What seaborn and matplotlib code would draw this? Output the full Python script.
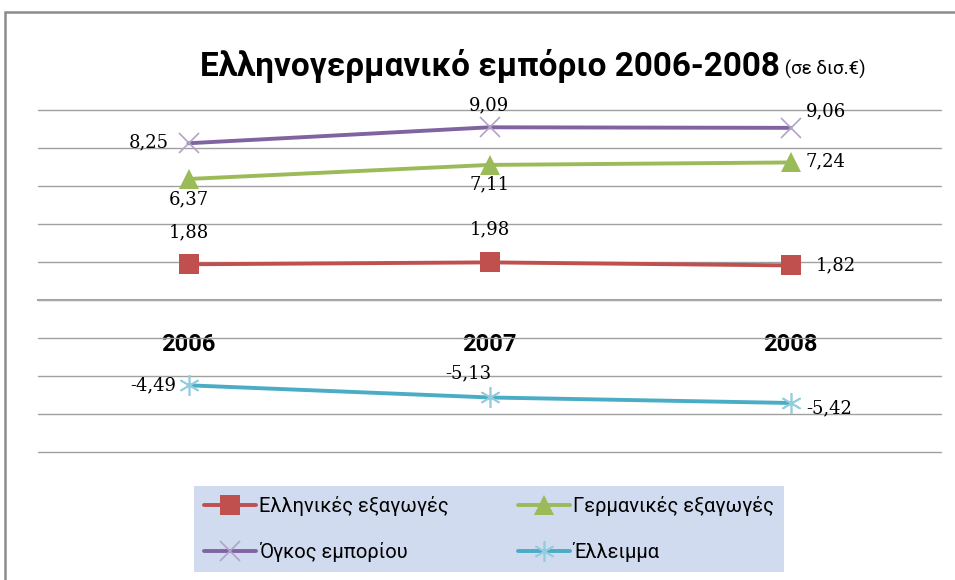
import matplotlib
matplotlib.use("Agg")
import matplotlib.pyplot as plt
import matplotlib.patches as mpatches
import pandas as pd
import seaborn as sns

years = ["2006", "2007", "2008"]
greek_exports = [1.88, 1.98, 1.82]
german_exports = [6.37, 7.11, 7.24]
trade_volume = [8.25, 9.09, 9.06]
deficit = [-4.49, -5.13, -5.42]

series_names = ["Ελληνικές εξαγωγές", "Γερμανικές εξαγωγές", "Όγκος εμπορίου", "Έλλειμμα"]
title_main = "Ελληνογερμανικό εμπόριο 2006-2008"
title_unit = " (σε δισ.€)"

sns.set_style("white")
plt.rcParams['font.family'] = ['Roboto', 'DejaVu Sans']
plt.rcParams['text.color'] = 'black'

# style of each series: colour, marker colour, marker, size, label offsets (pt) + alignment
styles = [
    dict(color='#C0504D', mcolor='#C0504D', marker='s', ms=14, mew=0,
         offs=[((0, 23), 'center'), ((0, 24), 'center'), ((18, 0), 'left')]),
    dict(color='#9BBB59', mcolor='#9BBB59', marker='^', ms=15, mew=0,
         offs=[((0, -15), 'center'), ((0, -14), 'center'), ((11, 1), 'left')]),
    dict(color='#8064A2', mcolor='#B3A2C7', marker='x', ms=15, mew=1.2,
         offs=[((-14, 1), 'right'), ((0, 16), 'center'), ((11, 12), 'left')]),
    dict(color='#4BACC6', mcolor='#93CDDD', marker=(6, 2, 0), ms=15, mew=1.2,
         offs=[((-9, 0), 'right'), ((-15, 17), 'center'), ((11, -4), 'left')]),
]

df = pd.DataFrame({'year': years})
values = [greek_exports, german_exports, trade_volume, deficit]

fig = plt.figure(figsize=(9.55, 5.8), dpi=100)
ax = fig.add_axes([38 / 955, 1 - 452 / 580, (941 - 38) / 955, 342 / 580])

for name, vals, st in zip(series_names, values, styles):
    df[name] = vals
    sns.lineplot(data=df, x='year', y=name, ax=ax, color=st['color'], lw=2.8,
                 marker=st['marker'], markersize=st['ms'], markeredgewidth=st['mew'],
                 markerfacecolor=st['mcolor'], markeredgecolor=st['mcolor'],
                 label=name, sort=False)
    for i, v in enumerate(vals):
        (dx, dy), ha = st['offs'][i]
        ax.annotate(f"{v:.2f}".replace('.', ','), (i, v), xytext=(dx, dy),
                    textcoords='offset points', ha=ha, va='center',
                    fontsize=13, family='DejaVu Serif', color='black')

ax.set_xlim(-0.5, 2.5)
ax.set_ylim(-8, 10)
ax.set_yticks(range(-8, 11, 2))
ax.yaxis.grid(True, color='#a0a0a0', lw=1)
for gl in ax.get_ygridlines():
    gl.set_clip_on(False)
ax.xaxis.grid(False)
ax.set_axisbelow(True)
ax.tick_params(axis='y', left=False, labelleft=False)
ax.set_xlabel('')
ax.set_ylabel('')

for s in ['top', 'right', 'left']:
    ax.spines[s].set_visible(False)
ax.spines['bottom'].set_position(('data', 0))
ax.spines['bottom'].set_color('#a6a6a6')
ax.spines['bottom'].set_linewidth(1.5)

ax.set_xticks([0, 1, 2])
ax.set_xticklabels(years, fontsize=17, fontweight='bold', color='black')
ax.set_xticks([-0.5, 0.5, 1.5, 2.5], minor=True)
ax.tick_params(axis='x', which='major', length=0, pad=24)
ax.tick_params(axis='x', which='minor', length=6.5, width=1.2, color='#a6a6a6', direction='out')

# legend at the bottom, two rows
handles, labels = ax.get_legend_handles_labels()
ax.get_legend().remove()
order = [0, 2, 1, 3]
leg = fig.legend([handles[i] for i in order], [labels[i] for i in order],
                 ncol=2, loc='lower left', mode='expand',
                 bbox_to_anchor=(194 / 955, 8 / 580, 590 / 955, 92 / 580),
                 fontsize=14.5, frameon=True, fancybox=False, handlelength=2.6,
                 handletextpad=0.15, columnspacing=1.0, borderpad=0.5, labelspacing=1.3,
                 borderaxespad=0)
leg.get_frame().set_facecolor('#D0DBEF')
leg.get_frame().set_edgecolor('none')
leg.get_frame().set_alpha(1)

# title: bold main part and small unit part, main part fitted to the reference width
t1 = fig.text(200 / 955, 1 - 66 / 580, title_main, fontsize=24, fontweight='bold',
              va='center', ha='left', color='black')
fig.canvas.draw()
r = fig.canvas.get_renderer()
w = t1.get_window_extent(r).width
t1.set_fontsize(24 * 580 / w)
bb = t1.get_window_extent(r)
fig.text(bb.x1 / fig.bbox.width, 1 - 69 / 580, title_unit, fontsize=13.5,
         va='center', ha='left', color='black')

# chart border
fig.patches.append(mpatches.Rectangle((5 / 955, -0.1), 1.2, 1.1 - 12 / 580,
                                      transform=fig.transFigure, fill=False,
                                      edgecolor='#8c8c8c', lw=1.8, clip_on=False))

fig.savefig('out.png', dpi=100)
